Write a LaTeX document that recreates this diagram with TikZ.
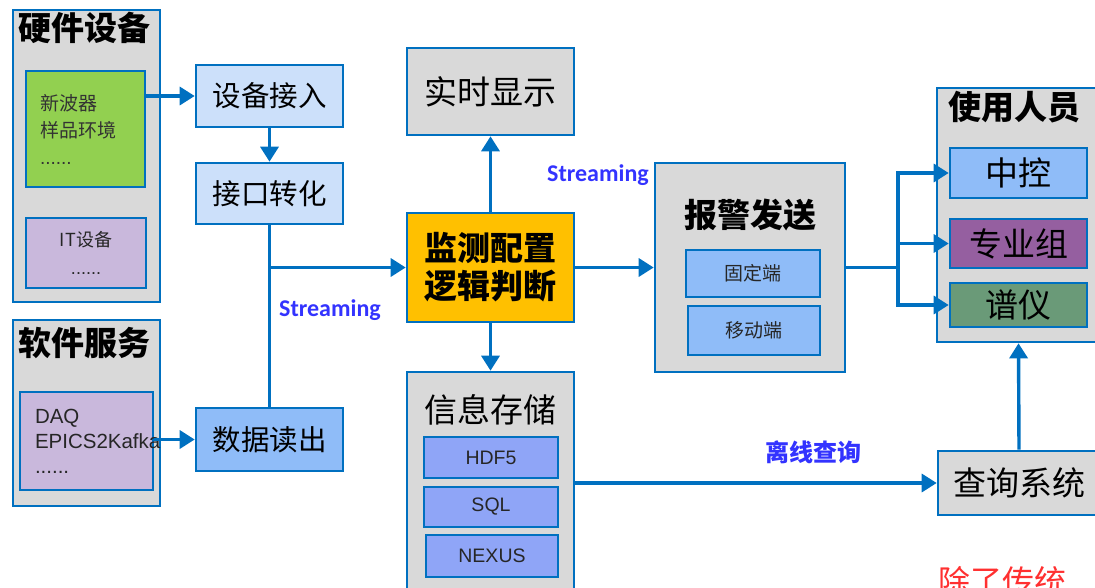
\documentclass[tikz,border=0pt]{standalone}
\usepackage{fontspec}
\setmainfont{Liberation Sans}
\newfontfamily\cjk{Noto Sans CJK SC}
\newfontfamily\lat{Carlito}
\usetikzlibrary{arrows.meta}
\definecolor{bd}{HTML}{0070C0}
\definecolor{gr}{HTML}{D9D9D9}
\definecolor{lblue}{HTML}{CCE0FA}
\definecolor{mblue}{HTML}{8FBCF8}
\definecolor{grn}{HTML}{92D050}
\definecolor{lav}{HTML}{C9B8DC}
\definecolor{org}{HTML}{FFC000}
\definecolor{pur}{HTML}{955FA0}
\definecolor{gg}{HTML}{6A9A78}
\definecolor{sblue}{HTML}{8FA5F7}
\definecolor{lbl}{HTML}{3333FF}
\definecolor{rd}{HTML}{FF3030}
\begin{document}
\begin{tikzpicture}[x=1pt,y=-1pt,
  box/.style={draw=bd, line width=2.6pt, fill=gr, inner sep=0pt},
  big/.style={font=\cjk\fontsize{33}{36}\selectfont},
  bigb/.style={font=\cjk\bfseries\fontsize{33}{38}\selectfont},
  mid/.style={font=\cjk\fontsize{28.5}{32}\selectfont},
  small/.style={font=\cjk\fontsize{19}{27}\selectfont, text=black!85},
  ltxt/.style={font=\fontsize{19.5}{25}\selectfont, text=black!85},
  lab/.style={font=\lat\bfseries\fontsize{24}{26}\selectfont, text=lbl},
  conn/.style={draw=bd, line width=3.4pt},
  arr/.style={conn, -{Triangle[length=15pt,width=18pt]}},
  ttl/.style={anchor=west, inner sep=0pt, font=\cjk\bfseries\fontsize{33}{36}\selectfont}
]
\useasboundingbox (0,0) rectangle (1095,587);
\clip (0,0) rectangle (1095,587);

% hardware
\node[box, minimum width=147, minimum height=292] (hw) at (86.5,156) {};
\node[ttl] (hwt) at (18,28) {硬件设备};
\node[box, fill=grn, minimum width=119, minimum height=116, align=left, text width=91, small, text=black!80] (green) at (85.5,129) {新波器\\样品环境\\{\rmfamily ......}};
\node[box, fill=lav, minimum width=120, minimum height=70, align=center, small, font=\cjk\fontsize{18}{28}\selectfont] (itb) at (86,253) {IT设备\\{\rmfamily ......}};

% software
\node[box, minimum width=147, minimum height=186] (sw) at (86.5,413) {};
\node[ttl] (swt) at (18,343) {软件服务};
\node[box, fill=lav, minimum width=133, minimum height=98, align=left, text width=103, font=\fontsize{20.5}{25}\selectfont, text=black!85] (daq) at (86.5,441) {DAQ\\EPICS2Kafka\\......};

% left column
\node[box, fill=lblue, minimum width=147, minimum height=62, mid] (jieru) at (269.5,96) {设备接入};
\node[box, fill=lblue, minimum width=147, minimum height=61, mid] (zhuan) at (269.5,193.5) {接口转化};
\node[box, fill=mblue, minimum width=147, minimum height=63, mid] (duchu) at (269.5,439.5) {数据读出};

% middle column
\node[box, minimum width=167, minimum height=87, big] (shishi) at (490.5,91.5) {实时显示};
\node[box, fill=org, minimum width=167, minimum height=109, bigb, align=center] (jiance) at (490.5,267.5) {监测配置\\逻辑判断};
\node[box, minimum width=167, minimum height=228] (cunchu) at (490.5,486) {};
\node[big, inner sep=0pt] (cunt) at (490.5,410) {信息存储};
\node[box, fill=sblue, minimum width=134, minimum height=41, ltxt] (hdf) at (491,457.5) {HDF5};
\node[box, fill=sblue, minimum width=134, minimum height=40, ltxt] (sql) at (491,507) {SQL};
\node[box, fill=sblue, minimum width=132, minimum height=42, ltxt] (nex) at (492,556) {NEXUS};

% alarm
\node[box, minimum width=190, minimum height=209] (bj) at (750,267.5) {};
\node[bigb, inner sep=0pt] (bjt) at (750,215) {报警发送};
\node[box, fill=mblue, minimum width=134, minimum height=47, small] (gd) at (753,273.5) {固定端};
\node[box, fill=mblue, minimum width=132, minimum height=49, small] (yd) at (754,330.5) {移动端};

% users
\node[box, minimum width=163, minimum height=254] (ry) at (1018.5,215) {};
\node[ttl] (ryt) at (948,107) {使用人员};
\node[box, fill=mblue, minimum width=137, minimum height=50, big] (zk) at (1018.5,173) {中控};
\node[box, fill=pur, minimum width=137, minimum height=49, big] (zy) at (1018.5,243.5) {专业组};
\node[box, fill=gg, minimum width=137, minimum height=44, big] (py) at (1018.5,305) {谱仪};
\node[box, minimum width=162, minimum height=64, font=\cjk\fontsize{33}{36}\selectfont] (cx) at (1019,483) {查询系统};

% labels
\node[lab] (s1) at (330,310) {Streaming};
\node[lab] (s2) at (598,175) {Streaming};
\node[font=\cjk\bfseries\fontsize{24}{26}\selectfont, text=lbl] (lx) at (813,452) {离线查询};
\node[anchor=north west, inner sep=0pt, font=\cjk\fontsize{32}{36}\selectfont, text=rd] (note) at (938,566) {除了传统};

% connectors
\draw[arr] (green.east |- jieru.west) -- (jieru.west);
\draw[arr] (jieru.south) -- (zhuan.north);
\draw[conn] (zhuan.south) -- (duchu.north);
\coordinate (j1) at (zhuan.south |- jiance.west);
\draw[arr] (j1) -- (jiance.west);
\draw[arr] (daq.east |- duchu.west) -- (duchu.west);
\draw[arr] (jiance.north) -- (shishi.south);
\draw[arr] (jiance.south) -- (cunchu.north);
\draw[arr] (jiance.east) -- (bj.west);
\coordinate (sp) at (898,267.5);
\draw[conn] (bj.east) -- (sp);
\draw[arr] (sp) |- (zk.west);
\draw[arr] (sp) |- (zy.west);
\draw[arr] (sp) |- (py.west);
\draw[arr] (cunchu.east |- cx.west) -- (cx.west);
\draw[arr] (cx.north) -- (ry.south);
\end{tikzpicture}
\end{document}
